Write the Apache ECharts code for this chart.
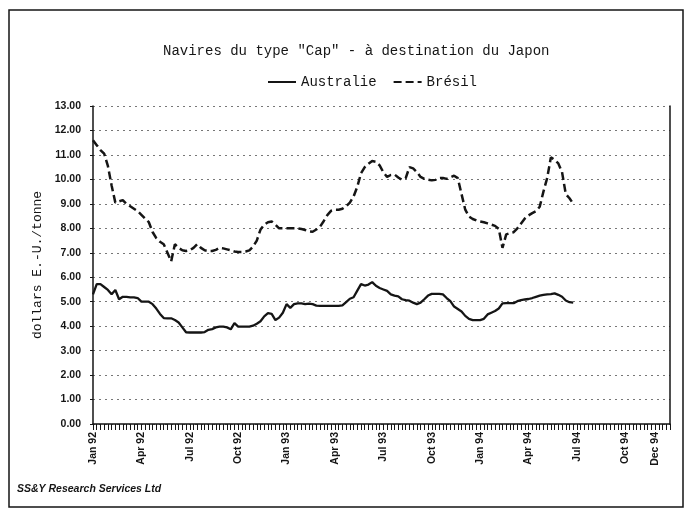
<!DOCTYPE html>
<html>
<head>
<meta charset="utf-8">
<script src="https://cdn.jsdelivr.net/npm/echarts@6/dist/echarts.min.js"></script>
<style>
  html, body { margin: 0; padding: 0; background: #fff; }
  #chart { width: 690px; height: 522px; }
</style>
</head>
<body>
<div id="chart"></div>
<script>
// weekly observations, starting first week of January 1992
const startDate = new Date(1992, 0, 3)
const weekCount = 156

const tickLabels = ['Jan 92', 'Apr 92', 'Jul 92', 'Oct 92', 'Jan 93', 'Apr 93', 'Jul 93',
  'Oct 93', 'Jan 94', 'Apr 94', 'Jul 94', 'Oct 94', 'Dec 94']
const tickWeeks = [0, 13, 26, 39, 52, 65, 78, 91, 104, 117, 130, 143, 151]

const australie = [
  5.30, 5.72, 5.72, 5.60, 5.48, 5.30, 5.48, 5.10, 5.20, 5.20,
  5.18, 5.18, 5.15, 5.00, 5.00, 5.00, 4.90, 4.72, 4.50, 4.33,
  4.32, 4.32, 4.25, 4.15, 3.95, 3.75, 3.74, 3.74, 3.74, 3.74,
  3.76, 3.85, 3.88, 3.95, 3.98, 3.98, 3.95, 3.87, 4.12, 3.98,
  3.98, 3.98, 3.98, 4.02, 4.10, 4.20, 4.40, 4.53, 4.50, 4.25,
  4.35, 4.55, 4.90, 4.75, 4.90, 4.93, 4.93, 4.90, 4.92, 4.90,
  4.84, 4.83, 4.83, 4.83, 4.83, 4.83, 4.83, 4.85, 4.98, 5.12,
  5.18, 5.45, 5.72, 5.66, 5.70, 5.80, 5.65, 5.56, 5.50, 5.44,
  5.30, 5.25, 5.22, 5.10, 5.06, 5.04, 4.96, 4.90, 4.96, 5.10,
  5.25, 5.32, 5.32, 5.32, 5.30, 5.15, 5.02, 4.80, 4.70, 4.60,
  4.42, 4.30, 4.25, 4.25, 4.25, 4.30, 4.48, 4.55, 4.62, 4.72,
  4.93, 4.94, 4.94, 4.94, 5.02, 5.06, 5.09, 5.11, 5.15, 5.20,
  5.25, 5.28, 5.30, 5.31, 5.34, 5.28, 5.20, 5.05, 4.98, 4.96
]

const bresil = [
  11.60, 11.40, 11.20, 11.05, 10.55, 9.75, 9.05, 9.10, 9.15, 9.00,
  8.90, 8.80, 8.70, 8.55, 8.40, 8.25, 7.85, 7.60, 7.45, 7.35,
  7.00, 6.65, 7.35, 7.20, 7.10, 7.07, 7.10, 7.20, 7.35, 7.20,
  7.10, 7.07, 7.07, 7.12, 7.20, 7.18, 7.14, 7.10, 7.05, 7.03,
  7.03, 7.05, 7.10, 7.25, 7.50, 7.95, 8.15, 8.25, 8.28, 8.15,
  8.00, 8.00, 8.00, 8.00, 8.00, 8.00, 7.97, 7.93, 7.88, 7.86,
  7.95, 8.07, 8.30, 8.55, 8.72, 8.76, 8.76, 8.80, 8.90, 9.05,
  9.30, 9.70, 10.25, 10.50, 10.64, 10.75, 10.72, 10.57, 10.29, 10.10,
  10.18, 10.20, 10.08, 9.98, 10.05, 10.50, 10.45, 10.30, 10.10, 10.02,
  9.99, 9.96, 9.98, 10.05, 10.06, 10.02, 10.08, 10.15, 10.05, 9.40,
  8.76, 8.48, 8.38, 8.32, 8.28, 8.25, 8.20, 8.15, 8.10, 7.98,
  7.20, 7.75, 7.80, 7.84, 8.00, 8.20, 8.40, 8.53, 8.62, 8.70,
  8.88, 9.50, 10.05, 10.90, 10.80, 10.65, 10.30, 9.40, 9.23, 9.00
]

const weeks = []
for (let i = 0; i < weekCount; i++) {
  const d = new Date(startDate.getTime() + i * 7 * 86400000)
  weeks.push(d.toISOString().slice(0, 10))
}

const mono = 'Liberation Mono'
const sans = 'Liberation Sans'
const ink = '#151515'

const chart = echarts.init(document.getElementById('chart'))

chart.setOption({
  backgroundColor: '#fff',
  animation: false,
  title: {
    text: 'Navires du type "Cap" - à destination du Japon',
    left: 158,
    top: 39,
    textStyle: { fontFamily: mono, fontSize: 14, fontWeight: 'normal', color: ink }
  },
  legend: {
    left: 262,
    top: 70,
    itemWidth: 28,
    itemHeight: 10,
    itemGap: 16,
    itemStyle: { opacity: 0 },
    textStyle: { fontFamily: mono, fontSize: 14, color: ink },
    data: ['Australie', 'Brésil']
  },
  grid: { left: 93, right: 20, top: 106, bottom: 98, containLabel: false },
  xAxis: {
    type: 'category',
    data: weeks,
    boundaryGap: false,
    axisLine: { lineStyle: { color: ink, width: 1.5 } },
    axisTick: { interval: 0, length: 6, lineStyle: { color: ink, width: 1 } },
    axisLabel: {
      interval: (i) => tickWeeks.includes(i),
      formatter: (v, i) => tickLabels[tickWeeks.indexOf(i)] || '',
      rotate: 90,
      margin: 8,
      fontFamily: sans,
      fontSize: 10.5,
      fontWeight: 'bold',
      color: ink
    },
    splitLine: { show: false }
  },
  yAxis: [
    {
      type: 'value',
      min: 0,
      max: 13,
      interval: 1,
      name: 'dollars E.-U./tonne',
      nameLocation: 'middle',
      nameRotate: 90,
      nameGap: 49,
      nameTextStyle: { fontFamily: mono, fontSize: 13, color: ink },
      axisLine: { show: true, lineStyle: { color: ink, width: 1.5 } },
      axisTick: { show: true, length: 3, lineStyle: { color: ink } },
      axisLabel: {
        formatter: (v) => v.toFixed(2),
        margin: 12,
        fontFamily: sans,
        fontSize: 10.5,
        fontWeight: 'bold',
        color: ink
      },
      splitLine: { show: true, lineStyle: { color: '#777', type: [2, 4], width: 1 } }
    },
    {
      type: 'value',
      position: 'right',
      min: 0,
      max: 13,
      interval: 1,
      axisLine: { show: true, lineStyle: { color: ink, width: 1.5 } },
      axisTick: { show: false },
      axisLabel: { show: false },
      splitLine: { show: false }
    }
  ],
  series: [
    {
      name: 'Australie',
      type: 'line',
      data: australie,
      symbol: 'none',
      lineStyle: { color: ink, width: 2.3 },
      itemStyle: { color: ink }
    },
    {
      name: 'Brésil',
      type: 'line',
      data: bresil,
      symbol: 'none',
      lineStyle: { color: ink, width: 2.5, type: [8, 4] },
      itemStyle: { color: ink }
    }
  ],
  graphic: [
    {
      type: 'rect',
      shape: { x: 9, y: 10, width: 674, height: 497 },
      style: { fill: 'none', stroke: ink, lineWidth: 1.5 },
      silent: true
    },
    {
      type: 'text',
      left: 17,
      top: 484,
      style: {
        text: 'SS&Y Research Services Ltd',
        font: 'italic bold 10.5px "Liberation Sans"',
        fill: ink
      }
    }
  ]
})
</script>
</body>
</html>
